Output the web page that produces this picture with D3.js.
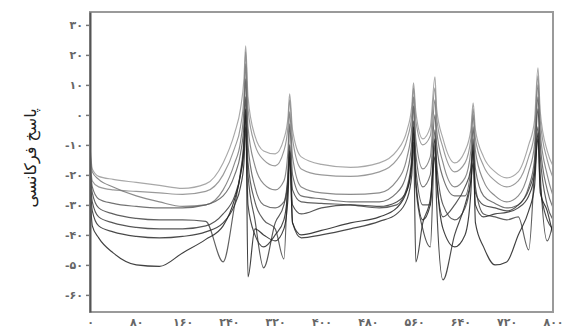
<!DOCTYPE html>
<html>
<head>
<meta charset="utf-8">
<script src="https://cdn.jsdelivr.net/npm/d3@7"></script>
<style>
  body { margin: 0; background: #fff; }
  svg { display: block; font-family: "DejaVu Sans", sans-serif; }
</style>
</head>
<body>
<div class="frf_chart"></div>
<script>
// frequencies (x) shared by all response curves
var freqs = [0,4,15,40,80,120,160,200,230,250,260,266,269,273,285,300,320,335,342,345,350,365,400,450,500,530,548,556,559,563,575,588,596,599,610,630,648,658,662,666,680,700,720,740,758,768,774,778,790,800];

// response values (dB), one array per curve
var resp1 = [-10,-18,-20.5,-21.5,-22.5,-23.5,-24.5,-23,-16,-6,2,12,23,6,-7,-12,-13,-8,-1,7,-5,-14,-16.5,-17.5,-16,-12,-5,3,10.7,1,-8,-4,12.7,2,-8,-16,-12,-5,4,-5,-14,-19,-21,-19,-10,-2,15.7,1,-12,-17];
var resp2 = [-14,-22,-24,-25,-25.5,-26,-26.5,-25.5,-20,-11,-4,6,21,2,-10,-15,-17,-12,-4,5,-8,-18,-20,-20.5,-19,-15,-8,0,9,-2,-10,-7,9,-1,-11,-19,-16,-8,2,-8,-17,-22,-24,-22,-14,-6,13,-2,-15,-21];
var resp3 = [-12,-19,-21.5,-24,-27,-29,-30.5,-30,-25,-16,-9,2,17,-4,-17,-23,-25,-22,-12,1,-14,-24,-26,-26.5,-26,-22,-14,-4,6,-8,-18,-14,5,-5,-16,-24,-21,-12,0,-12,-22,-27,-29,-27,-19,-10,10,-6,-20,-27];
var resp4 = [-16,-24,-28,-29.5,-30.5,-31,-31,-30,-27,-20,-13,-3,12,-10,-24,-30,-31,-29,-20,-3,-20,-27,-28,-29,-29,-26,-19,-9,3,-13,-24,-20,0,-10,-21,-27,-27,-18,-4,-18,-27,-29.5,-31,-30,-24,-15,6,-10,-25,-31];
var resp5 = [-18,-26,-31,-33,-34.5,-35,-35,-35.5,-49,-30,-19,-8,6,-16,-29,-35,-38,-48,-20,-10,-25,-29,-29.5,-30,-31,-30,-24,-14,-2,-18,-30,-30,-5,-16,-30,-35,-31,-22,-8,-24,-33,-34,-35,-34,-45,-18,2,-14,-30,-35];
var resp6 = [-20,-29,-34,-36,-37.5,-38,-38,-37,-33,-27,-20,-12,0,-20,-35,-51,-36,-30,-22,-12,-30,-33,-31,-30,-30.5,-29,-25,-17,-6,-24,-38,-44,-10,-22,-34,-30,-24,-18,-12,-26,-30,-31,-32,-30,-25,-18,-4,-20,-42,-36];
var resp7 = [-22,-32,-37,-39,-40.5,-41,-40.5,-39,-36,-30,-24,-16,-4,-30,-40,-44,-40,-35,-24,-12,-36,-41,-40,-38,-35.5,-33,-28,-20,-9,-49,-36,-28,-14,-30,-55,-40,-30,-22,-16,-30,-34,-33,-32.5,-31,-27,-20,-8,-24,-35,-38];
var resp8 = [-25,-37,-41,-46,-50,-50.5,-46,-41.5,-37,-28,-20,-10,2,-54,-38,-40,-42,-38,-28,-14,-36,-40,-38.5,-36,-34,-31,-25,-16,-4,-22,-35,-30,-8,-20,-38,-44,-40,-26,-10,-36,-44,-50,-49,-40,-32,-24,-6,-26,-32,-40];

var xTicks = [0,80,160,240,320,400,480,560,640,720,800];
var yTicks = [-60,-50,-40,-30,-20,-10,0,10,20,30];
var yTitle = "پاسخ فرکانسی";

var series = [resp1, resp2, resp3, resp4, resp5, resp6, resp7, resp8];
// lighter greys for the upper curves, darker for the lower ones
var greys = ["#999", "#888", "#777", "#5a5a5a", "#444", "#3a3a3a", "#2a2a2a", "#1e1e1e"];

var W = 573, H = 336;
var plot = {left: 90, right: 553, top: 12, bottom: 312};

var svg = d3.select(".frf_chart")
  .append("svg")
    .attr("width", W)
    .attr("height", H);

var x = d3.scaleLinear()
  .domain([0, 800])
  .range([plot.left, plot.right]);

var y = d3.scaleLinear()
  .domain([-65.7, 34.3])
  .range([plot.bottom, plot.top]);

var fa = function(d) {
  return String(d).replace(/\d/g, function(c) { return "۰۱۲۳۴۵۶۷۸۹"[+c]; });
};

svg.append("clipPath")
    .attr("id", "clip")
  .append("rect")
    .attr("x", plot.left)
    .attr("y", plot.top)
    .attr("width", plot.right - plot.left)
    .attr("height", plot.bottom - plot.top);

var line = d3.line()
  .x(function(d, i) { return x(freqs[i]); })
  .y(function(d) { return y(d); })
  .curve(d3.curveMonotoneX);

svg.append("g")
    .attr("clip-path", "url(#clip)")
  .selectAll("path")
  .data(series)
  .enter()
  .append("path")
    .attr("d", line)
    .attr("fill", "none")
    .attr("stroke", function(d, i) { return greys[i]; })
    .attr("stroke-width", 1.15)
    .attr("stroke-opacity", 0.85);

// frame
svg.append("rect")
    .attr("x", plot.left)
    .attr("y", plot.top)
    .attr("width", plot.right - plot.left)
    .attr("height", plot.bottom - plot.top)
    .attr("fill", "none")
    .attr("stroke", "#9a9a9a")
    .attr("stroke-width", 2);

var yAxis = d3.axisLeft(y)
  .tickValues(yTicks)
  .tickSize(4)
  .tickSizeOuter(0)
  .tickPadding(3)
  .tickFormat(fa);

var gy = svg.append("g")
    .attr("transform", "translate(" + plot.left + ",0)")
    .call(yAxis);
gy.select(".domain").attr("stroke", "#555").attr("stroke-width", 2);
gy.selectAll(".tick line").attr("stroke", "#777").attr("stroke-width", 1.5);
gy.selectAll("text")
    .attr("fill", "#666")
    .attr("font-size", 11)
    .attr("font-weight", "bold")
    .attr("font-family", "DejaVu Sans");

var xAxis = d3.axisBottom(x)
  .tickValues(xTicks)
  .tickSize(0)
  .tickPadding(6)
  .tickFormat(fa);

var gx = svg.append("g")
    .attr("transform", "translate(0," + plot.bottom + ")")
    .call(xAxis);
gx.select(".domain").remove();
gx.selectAll("text")
    .attr("fill", "#666")
    .attr("font-size", 11)
    .attr("font-weight", "bold")
    .attr("font-family", "DejaVu Sans");

svg.append("text")
    .attr("transform", "translate(36," + 158 + ") rotate(-90)")
    .attr("text-anchor", "middle")
    .attr("font-size", 16)
    .attr("fill", "#222")
    .text(yTitle);
</script>
</body>
</html>
